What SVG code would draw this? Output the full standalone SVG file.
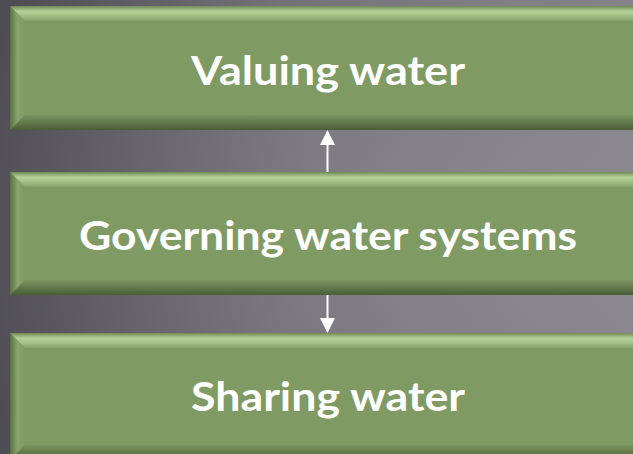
<svg xmlns="http://www.w3.org/2000/svg" width="633" height="454" viewBox="0 0 633 454">
<defs>
<linearGradient id="bg" x1="0" y1="0" x2="1" y2="0">
<stop offset="0" stop-color="#55535a"/>
<stop offset="0.45" stop-color="#77747b"/>
<stop offset="1" stop-color="#8f8c94"/>
</linearGradient>
<radialGradient id="bgv" cx="0.55" cy="0.5" r="0.7">
<stop offset="0" stop-color="#ffffff" stop-opacity="0.05"/>
<stop offset="1" stop-color="#000000" stop-opacity="0.08"/>
</radialGradient>
<linearGradient id="top" x1="0" y1="0" x2="0" y2="1">
<stop offset="0" stop-color="#6f8a55"/>
<stop offset="0.35" stop-color="#b7d19a"/>
<stop offset="0.7" stop-color="#a2bd84"/>
<stop offset="1" stop-color="#86a169"/>
</linearGradient>
<linearGradient id="left" x1="0" y1="0" x2="1" y2="0">
<stop offset="0" stop-color="#5a6f44"/>
<stop offset="0.5" stop-color="#8aa46e"/>
<stop offset="1" stop-color="#7e9962"/>
</linearGradient>
<linearGradient id="bot" x1="0" y1="0" x2="0" y2="1">
<stop offset="0" stop-color="#7a9460"/>
<stop offset="0.5" stop-color="#627a4b"/>
<stop offset="1" stop-color="#4b5c39"/>
</linearGradient>
<style>
.face{fill:#7f9a63}
.lbl{font-family:Lato,"Open Sans","Liberation Sans",sans-serif;font-weight:bold;font-size:41px;fill:#ffffff;text-anchor:middle}
.conn{stroke:#ffffff;stroke-width:2;fill:none}
</style>
</defs>
<rect width="633" height="454" fill="url(#bg)"/>
<rect width="633" height="454" fill="url(#bgv)"/>

<g id="valuing">
<rect x="10" y="6" width="640" height="124" class="face"/>
<polygon points="10,6 650,6 650,21 25,21" fill="url(#top)"/>
<polygon points="10,6 25,21 25,115 10,130" fill="url(#left)"/>
<polygon points="10,130 25,115 650,115 650,130" fill="url(#bot)"/>
<text x="328" y="85" class="lbl" textLength="274" lengthAdjust="spacingAndGlyphs">Valuing water</text>
</g>

<g id="governing">
<rect x="10" y="172" width="640" height="123" class="face"/>
<polygon points="10,172 650,172 650,187 25,187" fill="url(#top)"/>
<polygon points="10,172 25,187 25,280 10,295" fill="url(#left)"/>
<polygon points="10,295 25,280 650,280 650,295" fill="url(#bot)"/>
<text x="328" y="250" class="lbl" textLength="498" lengthAdjust="spacingAndGlyphs">Governing water systems</text>
</g>

<g id="sharing">
<rect x="10" y="333" width="640" height="135" class="face"/>
<polygon points="10,333 650,333 650,348 25,348" fill="url(#top)"/>
<polygon points="10,333 25,348 25,445 10,460" fill="url(#left)"/>
<polygon points="10,460 25,445 650,445 650,460" fill="url(#bot)"/>
<text x="328" y="411" class="lbl" textLength="274" lengthAdjust="spacingAndGlyphs">Sharing water</text>
</g>

<g id="connectors">
<line x1="327.5" y1="172" x2="327.5" y2="144" class="conn"/>
<polygon points="327.5,130 320,145 335,145" fill="#ffffff"/>
<line x1="327.5" y1="295" x2="327.5" y2="319" class="conn"/>
<polygon points="327.5,333 320,318 335,318" fill="#ffffff"/>
</g>
</svg>
